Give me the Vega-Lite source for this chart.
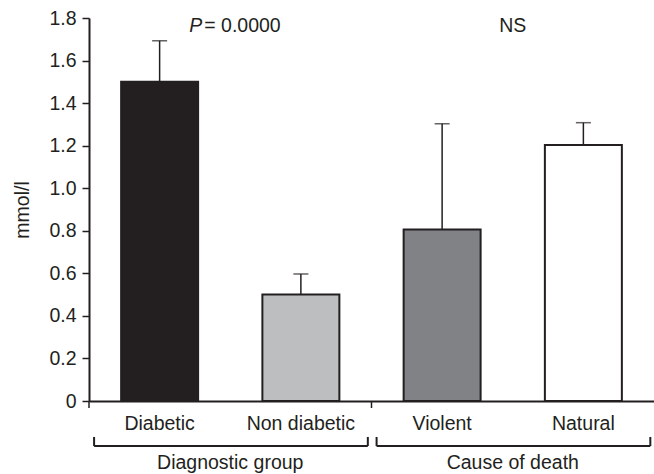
{
  "$schema": "https://vega.github.io/schema/vega-lite/v6.json",
  "width": 565,
  "height": 383,
  "autosize": {"type": "none"},
  "padding": {"left": 89, "top": 18, "right": 0, "bottom": 73},
  "background": "white",
  "config": {
    "view": {"stroke": null},
    "font": "Liberation Sans",
    "text": {"font": "Liberation Sans", "fontSize": 19.5, "color": "#231f20"}
  },
  "layer": [
    {
      "data": {
        "values": [
          {"category": "Diabetic", "group": "Diagnostic group", "mean": 1.5, "upper": 1.693},
          {"category": "Non diabetic", "group": "Diagnostic group", "mean": 0.5, "upper": 0.597},
          {"category": "Violent", "group": "Cause of death", "mean": 0.806, "upper": 1.303},
          {"category": "Natural", "group": "Cause of death", "mean": 1.203, "upper": 1.308}
        ]
      },
      "layer": [
        {
          "mark": {"type": "bar", "stroke": "#231f20", "strokeWidth": 2},
          "encoding": {
            "x": {
              "field": "category", "type": "nominal",
              "sort": ["Diabetic", "Non diabetic", "Violent", "Natural"],
              "scale": {"type": "band", "paddingInner": 0.455, "paddingOuter": 0.2275},
              "axis": {
                "title": null, "labelAngle": 0, "ticks": false, "tickSize": 0,
                "domainColor": "#231f20", "domainWidth": 2,
                "labelFont": "Liberation Sans", "labelFontSize": 19.5, "labelColor": "#231f20",
                "labelBaseline": "alphabetic", "labelPadding": 28
              }
            },
            "y": {
              "field": "mean", "type": "quantitative",
              "scale": {"domain": [0, 1.8], "nice": false},
              "axis": {
                "title": "mmol/l", "grid": false,
                "values": [0, 0.2, 0.4, 0.6, 0.8, 1.0, 1.2, 1.4, 1.6, 1.8],
                "labelExpr": "datum.value == 0 ? '0' : format(datum.value, '.1f')",
                "domainColor": "#231f20", "domainWidth": 2,
                "tickColor": "#231f20", "tickWidth": 1.5, "tickSize": 7,
                "labelFont": "Liberation Sans", "labelFontSize": 19.5, "labelColor": "#231f20", "labelPadding": 6,
                "titleFont": "Liberation Sans", "titleFontSize": 19.5, "titleFontWeight": "normal", "titleColor": "#231f20",
                "titlePadding": 16
              }
            },
            "fill": {
              "field": "category", "type": "nominal",
              "scale": {"domain": ["Diabetic", "Non diabetic", "Violent", "Natural"], "range": ["#231f20", "#bcbec0", "#808285", "#ffffff"]},
              "legend": null
            }
          }
        },
        {
          "mark": {"type": "rule", "color": "#231f20", "strokeWidth": 1.5},
          "encoding": {
            "x": {"field": "category", "type": "nominal", "sort": ["Diabetic", "Non diabetic", "Violent", "Natural"]},
            "y": {"field": "mean", "type": "quantitative", "scale": {"domain": [0, 1.8], "nice": false}},
            "y2": {"field": "upper"}
          }
        },
        {
          "mark": {"type": "tick", "orient": "horizontal", "size": 15, "thickness": 1.5, "color": "#231f20"},
          "encoding": {
            "x": {"field": "category", "type": "nominal", "sort": ["Diabetic", "Non diabetic", "Violent", "Natural"]},
            "y": {"field": "upper", "type": "quantitative", "scale": {"domain": [0, 1.8], "nice": false}}
          }
        }
      ]
    },
    {
      "data": {"values": [{"group": "Diagnostic group"}, {"group": "Cause of death"}]},
      "layer": [
        {
          "mark": {"type": "rule", "color": "#231f20", "strokeWidth": 2},
          "encoding": {
            "x": {"field": "group", "type": "nominal", "bandPosition": 0.018,
                  "scale": {"type": "band", "domain": ["Diagnostic group", "Cause of death"], "paddingInner": 0, "paddingOuter": 0}, "axis": null},
            "x2": {"field": "group", "bandPosition": 0.987},
            "y": {"datum": -0.2115, "type": "quantitative", "scale": {"domain": [0, 1.8], "nice": false}}
          }
        },
        {
          "mark": {"type": "rule", "color": "#231f20", "strokeWidth": 2},
          "encoding": {
            "x": {"field": "group", "type": "nominal", "bandPosition": 0.018},
            "y": {"datum": -0.169, "type": "quantitative", "scale": {"domain": [0, 1.8], "nice": false}},
            "y2": {"datum": -0.2115}
          }
        },
        {
          "mark": {"type": "rule", "color": "#231f20", "strokeWidth": 2},
          "encoding": {
            "x": {"field": "group", "type": "nominal", "bandPosition": 0.987},
            "y": {"datum": -0.169, "type": "quantitative", "scale": {"domain": [0, 1.8], "nice": false}},
            "y2": {"datum": -0.2115}
          }
        },
        {
          "mark": {"type": "rule", "color": "#231f20", "strokeWidth": 1.5},
          "encoding": {
            "x": {"field": "group", "type": "nominal", "bandPosition": 0},
            "y": {"datum": 0, "type": "quantitative", "scale": {"domain": [0, 1.8], "nice": false}},
            "y2": {"datum": -0.033}
          }
        },
        {
          "mark": {"type": "text", "baseline": "alphabetic", "align": "center", "fontSize": 19.5, "color": "#231f20"},
          "encoding": {
            "x": {"field": "group", "type": "nominal", "bandPosition": 0.5},
            "y": {"datum": -0.3195, "type": "quantitative", "scale": {"domain": [0, 1.8], "nice": false}},
            "text": {"field": "group"}
          }
        },
        {
          "data": {"values": [{"group": "Diagnostic group", "label": "P"}]},
          "mark": {"type": "text", "baseline": "alphabetic", "align": "right", "dx": -28, "fontStyle": "italic", "fontSize": 19.5, "color": "#231f20"},
          "encoding": {
            "x": {"field": "group", "type": "nominal", "bandPosition": 0.5},
            "y": {"datum": 1.734, "type": "quantitative", "scale": {"domain": [0, 1.8], "nice": false}},
            "text": {"field": "label"}
          }
        },
        {
          "data": {"values": [{"group": "Diagnostic group", "label": "= 0.0000"}]},
          "mark": {"type": "text", "baseline": "alphabetic", "align": "left", "dx": -26, "fontSize": 19.5, "color": "#231f20"},
          "encoding": {
            "x": {"field": "group", "type": "nominal", "bandPosition": 0.5},
            "y": {"datum": 1.734, "type": "quantitative", "scale": {"domain": [0, 1.8], "nice": false}},
            "text": {"field": "label"}
          }
        },
        {
          "data": {"values": [{"group": "Cause of death", "label": "NS"}]},
          "mark": {"type": "text", "baseline": "alphabetic", "align": "center", "fontSize": 19.5, "color": "#231f20"},
          "encoding": {
            "x": {"field": "group", "type": "nominal", "bandPosition": 0.5},
            "y": {"datum": 1.734, "type": "quantitative", "scale": {"domain": [0, 1.8], "nice": false}},
            "text": {"field": "label"}
          }
        }
      ]
    }
  ],
  "resolve": {"scale": {"x": "independent"}}
}
